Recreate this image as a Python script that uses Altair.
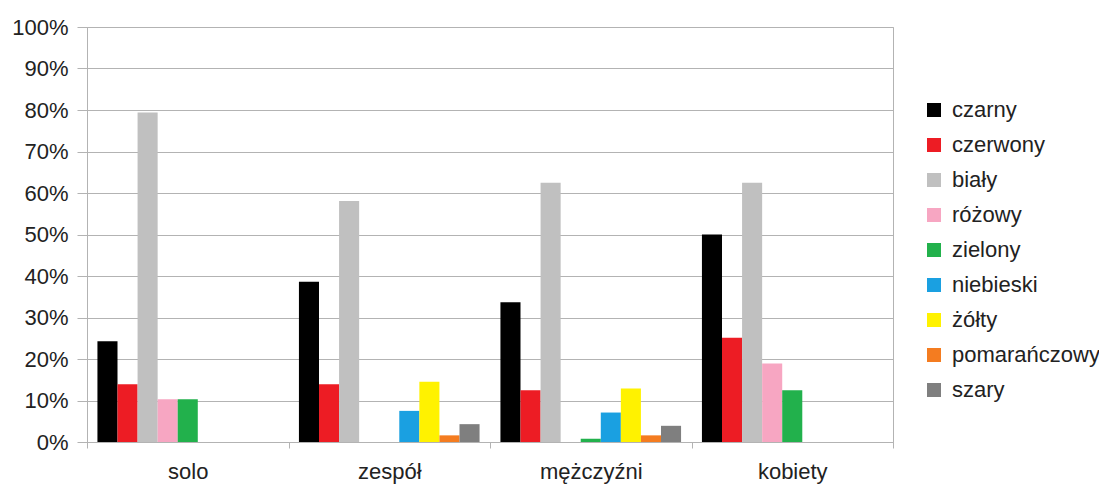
import altair as alt
import pandas as pd

categories = ["solo", "zespół", "mężczyźni", "kobiety"]
colors = ["czarny", "czerwony", "biały", "różowy", "zielony", "niebieski", "żółty", "pomarańczowy", "szary"]
palette = ["#000000", "#ED1C24", "#C0C0C0", "#F7A6C2", "#22B14C", "#1AA0E1", "#FFF200", "#F47C20", "#7F7F7F"]

solo = [0.243, 0.139, 0.794, 0.103, 0.103, None, None, None, None]
zespol = [0.386, 0.139, 0.581, None, None, 0.075, 0.145, 0.016, 0.043]
mezczyzni = [0.337, 0.125, 0.625, None, 0.008, 0.071, 0.129, 0.016, 0.039]
kobiety = [0.50, 0.251, 0.625, 0.189, 0.125, None, None, None, None]

rows = []
for cat, vals in zip(categories, [solo, zespol, mezczyzni, kobiety]):
    for c, v in zip(colors, vals):
        if v is not None:
            rows.append({"kategoria": cat, "kolor": c, "wartosc": v})
df = pd.DataFrame(rows)

FONT = "Liberation Sans"

chart = alt.Chart(df).mark_bar().encode(
    x=alt.X("kategoria:N", sort=categories, title=None,
            scale=alt.Scale(paddingInner=0, paddingOuter=0),
            axis=alt.Axis(labelAngle=0, tickBand="extent", tickSize=6, domainColor="#b3b3b3",
                          tickColor="#b3b3b3", labelPadding=13, grid=False)),
    xOffset=alt.XOffset("kolor:N", sort=colors, scale=alt.Scale(domain=colors, paddingOuter=0.52, paddingInner=0)),
    y=alt.Y("wartosc:Q", title=None,
            scale=alt.Scale(domain=[0, 1], nice=False),
            axis=alt.Axis(format=".0%", values=[i / 10 for i in range(11)], tickSize=10, tickColor="#b3b3b3",
                          domain=True, domainColor="#b3b3b3", gridColor="#b3b3b3", labelPadding=9)),
    color=alt.Color("kolor:N", sort=colors, scale=alt.Scale(domain=colors, range=palette),
                    legend=alt.Legend(title=None, orient="none", legendX=836, legendY=72,
                                      symbolType="square", symbolSize=196, symbolStrokeWidth=0,
                                      labelFontSize=22, labelOffset=7, rowPadding=13, padding=0,
                                      labelColor="#222222", labelFont=FONT)),
).properties(
    width=806, height=415,
    background="white",
    autosize=alt.AutoSizeParams(type="none"),
    padding={"left": 79, "top": 19, "right": 206, "bottom": 44},
).configure_view(
    stroke="#b3b3b3", strokeWidth=1
).configure_axis(
    labelFont=FONT, labelFontSize=22, labelColor="#222222"
)

chart.save("out.html", embed_options={"renderer": "svg", "actions": False})
